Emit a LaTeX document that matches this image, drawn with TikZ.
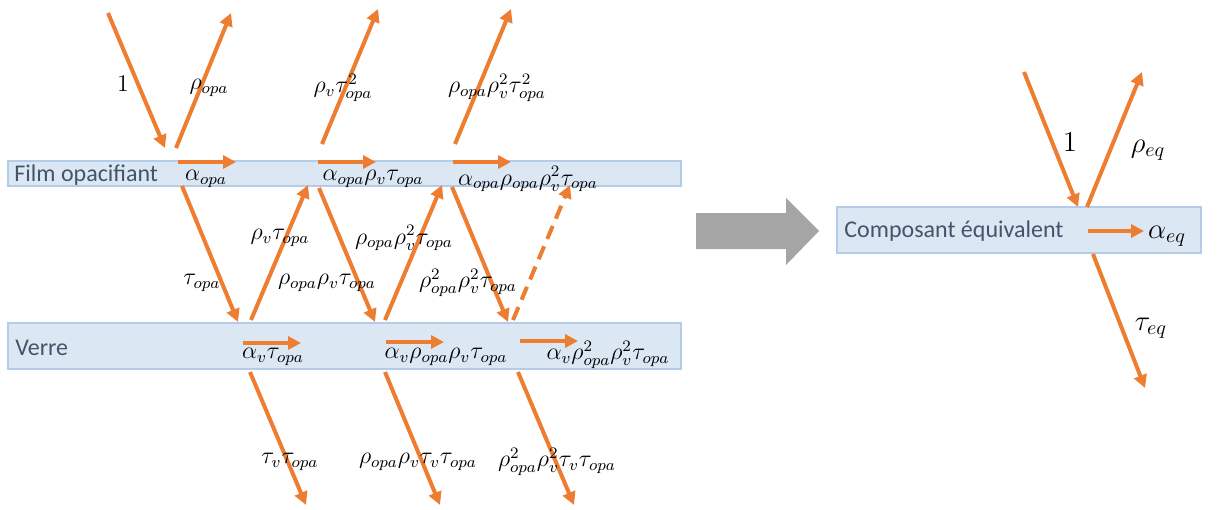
\documentclass[tikz,border=0pt]{standalone}
\usepackage{fontspec}
\setmainfont{Carlito}
\usepackage{tikz}
\usetikzlibrary{arrows.meta}
\definecolor{flux}{HTML}{ED7D31}
\definecolor{bandfill}{HTML}{DCE7F4}
\definecolor{bandline}{HTML}{B4CCE8}
\definecolor{bandtext}{HTML}{44546A}
\definecolor{bigarrow}{HTML}{A5A5A5}

\begin{document}
\begin{tikzpicture}[
  x=0.5pt, y=-0.5pt,
  band/.style    = {draw=bandline, fill=bandfill, line width=0.7pt,
                    inner sep=0pt, minimum height=#1},
  bandtxt/.style = {anchor=west, inner sep=0pt, text=bandtext,
                    font=\fontsize{12}{14}\selectfont},
  ray/.style     = {flux, line width=2pt,
                    -{Triangle[length=6.5pt, width=6.5pt]}},
  lbl/.style     = {inner sep=0pt, font=\fontsize{11.5}{13}\selectfont},
  biglbl/.style  = {inner sep=0pt, font=\fontsize{14}{16}\selectfont}
]
\useasboundingbox (0,0) rectangle (1226,509);

%% ---- LEFT: FILM + VERRE ----
\node[band=12.5pt, minimum width=336.5pt] (film)  at (344.5,173.5) {};
\node[band=23pt,   minimum width=336.5pt] (verre) at (344.5,346) {};
\node[bandtxt] (filmtxt)  at (14,175) {Film opacifiant};
\node[bandtxt] (verretxt) at (15,348) {Verre};

% end points of the rays
\coordinate (in0) at (108,13);   \coordinate (in1) at (165,148);
\coordinate (rA0) at (176,148);  \coordinate (rA1) at (231,13);
\coordinate (rB0) at (322,144);  \coordinate (rB1) at (378,9);
\coordinate (rC0) at (455,144);  \coordinate (rC1) at (511,9);
\coordinate (aA0) at (178,162);  \coordinate (aA1) at (236,162);
\coordinate (aB0) at (318,162);  \coordinate (aB1) at (376,162);
\coordinate (aC0) at (453,162);  \coordinate (aC1) at (511,162);
\coordinate (dA0) at (182,186);  \coordinate (dA1) at (238,322);
\coordinate (dB0) at (319,188);  \coordinate (dB1) at (375,322);
\coordinate (dC0) at (452,187);  \coordinate (dC1) at (508,322);
\coordinate (uA0) at (251,320);  \coordinate (uA1) at (308,185);
\coordinate (uB0) at (385,320);  \coordinate (uB1) at (442,185);
\coordinate (uC0) at (513,320);  \coordinate (uC1) at (570,185);
\coordinate (vA0) at (243,343);  \coordinate (vA1) at (301,343);
\coordinate (vB0) at (386,342);  \coordinate (vB1) at (444,342);
\coordinate (vC0) at (520,341);  \coordinate (vC1) at (578,341);
\coordinate (tA0) at (250,372);  \coordinate (tA1) at (306,505);
\coordinate (tB0) at (385,372);  \coordinate (tB1) at (440,505);
\coordinate (tC0) at (518,372);  \coordinate (tC1) at (574,505);

% rays
\draw[ray] (in0) -- (in1);
\draw[ray] (rA0) -- (rA1);
\draw[ray] (rB0) -- (rB1);
\draw[ray] (rC0) -- (rC1);
\draw[ray] (aA0) -- (aA1);
\draw[ray] (aB0) -- (aB1);
\draw[ray] (aC0) -- (aC1);
\draw[ray] (dA0) -- (dA1);
\draw[ray] (dB0) -- (dB1);
\draw[ray] (dC0) -- (dC1);
\draw[ray] (uA0) -- (uA1);
\draw[ray] (uB0) -- (uB1);
\draw[ray, dash pattern=on 7pt off 4pt] (uC0) -- (uC1);
\draw[ray] (vA0) -- (vA1);
\draw[ray] (vB0) -- (vB1);
\draw[ray] (vC0) -- (vC1);
\draw[ray] (tA0) -- (tA1);
\draw[ray] (tB0) -- (tB1);
\draw[ray] (tC0) -- (tC1);

% labels
\node[lbl] (l1)   at (123,84)  {$1$};
\node[lbl] (lrA)  at (209,88)  {$\rho_{opa}$};
\node[lbl] (lrB)  at (343,88)  {$\rho_v\tau_{opa}^2$};
\node[lbl] (lrC)  at (497,88)  {$\rho_{opa}\rho_v^2\tau_{opa}^2$};
\node[lbl] (laA)  at (206,179) {$\alpha_{opa}$};
\node[lbl] (laB)  at (373,179) {$\alpha_{opa}\rho_v\tau_{opa}$};
\node[lbl] (laC)  at (528,179) {$\alpha_{opa}\rho_{opa}\rho_v^2\tau_{opa}$};
\node[lbl] (ldA)  at (202,283) {$\tau_{opa}$};
\node[lbl] (ldB)  at (327,283) {$\rho_{opa}\rho_v\tau_{opa}$};
\node[lbl] (ldC)  at (468,283) {$\rho_{opa}^2\rho_v^2\tau_{opa}$};
\node[lbl] (luA)  at (280,238) {$\rho_v\tau_{opa}$};
\node[lbl] (luB)  at (404,238) {$\rho_{opa}\rho_v^2\tau_{opa}$};
\node[lbl] (lvA)  at (273,357) {$\alpha_v\tau_{opa}$};
\node[lbl] (lvB)  at (446,357) {$\alpha_v\rho_{opa}\rho_v\tau_{opa}$};
\node[lbl] (lvC)  at (608,355) {$\alpha_v\rho_{opa}^2\rho_v^2\tau_{opa}$};
\node[lbl] (ltA)  at (290,462) {$\tau_v\tau_{opa}$};
\node[lbl] (ltB)  at (418,462) {$\rho_{opa}\rho_v\tau_v\tau_{opa}$};
\node[lbl] (ltC)  at (557,462) {$\rho_{opa}^2\rho_v^2\tau_v\tau_{opa}$};

%% ---- MIDDLE: BIG ARROW ----
\fill[bigarrow] (696,213) -- (786,213) -- (786,198) -- (819,231)
  -- (786,265) -- (786,249) -- (696,249) -- cycle;

%% ---- RIGHT: EQUIVALENT ----
\node[band=23pt, minimum width=182pt] (equiv) at (1019,230) {};
\node[bandtxt] (equivtxt) at (844,231) {Composant équivalent};

\coordinate (ein0) at (1024,72);  \coordinate (ein1) at (1078,207);
\coordinate (er0)  at (1087,207); \coordinate (er1)  at (1142,72);
\coordinate (ea0)  at (1088,231); \coordinate (ea1)  at (1144,231);
\coordinate (et0)  at (1093,254); \coordinate (et1)  at (1145,388);

\draw[ray] (ein0) -- (ein1);
\draw[ray] (er0) -- (er1);
\draw[ray] (ea0) -- (ea1);
\draw[ray] (et0) -- (et1);

\node[biglbl] (le1) at (1070,142) {$1$};
\node[biglbl] (ler) at (1148,150) {$\rho_{eq}$};
\node[biglbl] (lea) at (1167,236) {$\alpha_{eq}$};
\node[biglbl] (let) at (1151,328) {$\tau_{eq}$};
\end{tikzpicture}
\end{document}
